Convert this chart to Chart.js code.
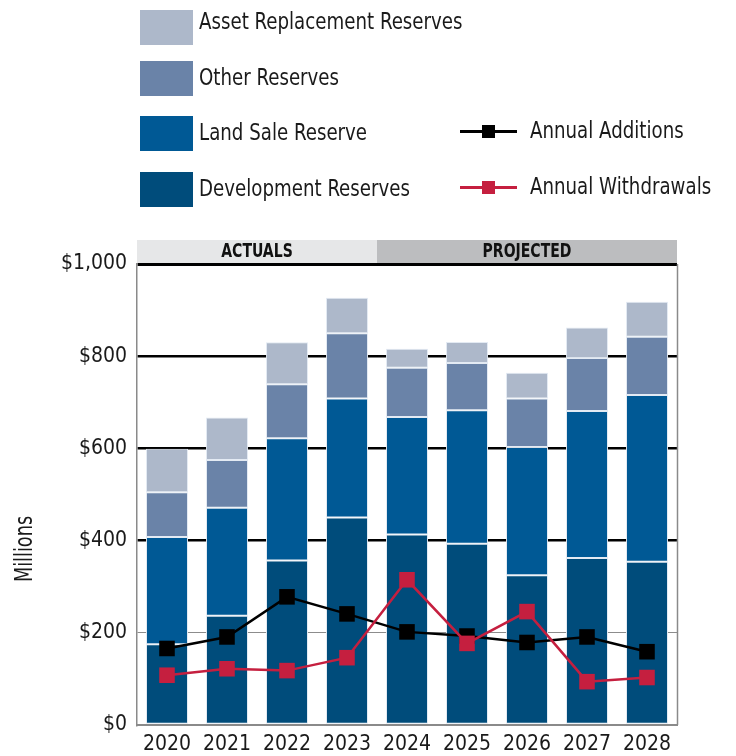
<!DOCTYPE html>
<html>
<head>
<meta charset="utf-8">
<script src="https://cdn.jsdelivr.net/npm/chart.js@4"></script>
<style>
  html, body { margin: 0; padding: 0; background: #fff; }
  #wrap { position: relative; width: 736px; height: 756px; overflow: hidden; }
  #chart { position: absolute; left: 0; top: 0; }
  .lg { position: absolute; font-family: 'Liberation Sans Narrow', 'Arial Narrow', 'DejaVu Sans Condensed', sans-serif; font-size: 23px; color: #1a1a1a; white-space: nowrap; line-height: 1; transform-origin: 0 50%; transform: scaleX(0.88); }
  .sw { position: absolute; width: 53px; height: 35px; }
</style>
</head>
<body>
<div id="wrap">
  <canvas id="chart" width="736" height="756"></canvas>
  <div id="legend"></div>
</div>
<script>
const years = ['2020', '2021', '2022', '2023', '2024', '2025', '2026', '2027', '2028'];
const development = [175, 237, 357, 450, 413, 393, 325, 362, 354];
const landSale = [233, 234, 265, 258, 255, 290, 278, 319, 362];
const otherReserves = [97, 104, 117, 142, 107, 102, 105, 115, 126];
const assetReplacement = [94, 92, 91, 77, 41, 46, 56, 66, 76];
const annualAdditions = [166, 191, 278, 241, 202, 193, 179, 191, 159];
const annualWithdrawals = [108, 122, 118, 146, 315, 177, 246, 94, 103];
const yTickValues = [0, 200, 400, 600, 800, 1000];
const periodLabels = ['ACTUALS', 'PROJECTED'];
const actualYearCount = 4;

const FONT = "'Liberation Sans Narrow', 'Arial Narrow', 'DejaVu Sans Condensed', sans-serif";
const TEXT = '#1a1a1a';

const barSeries = [
  { label: 'Development Reserves', data: development, color: '#004c7b' },
  { label: 'Land Sale Reserve', data: landSale, color: '#005995' },
  { label: 'Other Reserves', data: otherReserves, color: '#6a83a8' },
  { label: 'Asset Replacement Reserves', data: assetReplacement, color: '#adb8ca' }
];
const lineSeries = [
  { label: 'Annual Additions', data: annualAdditions, color: '#000000', order: 1 },
  { label: 'Annual Withdrawals', data: annualWithdrawals, color: '#c51f3f', order: 0 }
];

// HTML legend built from the series
(function buildLegend() {
  const lg = document.getElementById('legend');
  const swTops = [172, 116, 61, 10];
  const textOffsets = [5, 5, 5, 0];
  barSeries.forEach((s, i) => {
    const top = swTops[i];
    const sw = document.createElement('div');
    sw.className = 'sw';
    sw.style.left = '140px'; sw.style.top = top + 'px'; sw.style.background = s.color;
    lg.appendChild(sw);
    const t = document.createElement('div');
    t.className = 'lg';
    t.textContent = s.label;
    t.style.left = '199px'; t.style.top = (top + textOffsets[i]) + 'px';
    lg.appendChild(t);
  });
  const lineCenters = [131, 187];
  lineSeries.forEach((s, i) => {
    const cy = lineCenters[i];
    const ln = document.createElement('div');
    ln.style.cssText = 'position:absolute;left:460px;width:57px;height:3px;top:' + (cy - 1.5) + 'px;background:' + s.color;
    lg.appendChild(ln);
    const sq = document.createElement('div');
    sq.style.cssText = 'position:absolute;left:482px;width:13px;height:13px;top:' + (cy - 6.5) + 'px;background:' + s.color;
    lg.appendChild(sq);
    const t = document.createElement('div');
    t.className = 'lg';
    t.textContent = s.label;
    t.style.left = '530px'; t.style.top = (cy - 12) + 'px';
    lg.appendChild(t);
  });
})();

const decorPlugin = {
  id: 'decor',
  beforeDraw(chart) {
    const { ctx, chartArea, scales } = chart;
    const x = scales.x;
    const split = (x.getPixelForValue(actualYearCount - 1) + x.getPixelForValue(actualYearCount)) / 2;
    const bandTop = chartArea.top - 24, bandH = 23;
    ctx.save();
    ctx.fillStyle = '#e6e7e8';
    ctx.fillRect(chartArea.left, bandTop, split - chartArea.left, bandH);
    ctx.fillStyle = '#bcbdbf';
    ctx.fillRect(split, bandTop, chartArea.right - split, bandH);
    ctx.fillStyle = '#111';
    ctx.font = 'bold 19px ' + FONT;
    ctx.textAlign = 'center';
    ctx.textBaseline = 'middle';
    const centers = [(chartArea.left + split) / 2, (split + chartArea.right) / 2];
    centers.forEach((cx, i) => {
      ctx.save();
      ctx.translate(cx, bandTop + bandH / 2 + 1);
      ctx.scale(0.82, 1);
      ctx.fillText(periodLabels[i], 0, 0);
      ctx.restore();
    });
    ctx.restore();
  },
  afterDatasetsDraw(chart) {
    const { ctx, chartArea } = chart;
    ctx.save();
    ctx.strokeStyle = '#8a8a8a';
    ctx.lineWidth = 1.5;
    ctx.beginPath();
    ctx.moveTo(chartArea.right + 0.5, chartArea.top);
    ctx.lineTo(chartArea.right + 0.5, chartArea.bottom);
    ctx.stroke();
    ctx.restore();
  },
  afterDraw(chart) {
    const { ctx } = chart;
    ctx.save();
    ctx.translate(26, 549);
    ctx.rotate(-Math.PI / 2);
    ctx.scale(0.82, 1);
    ctx.fillStyle = TEXT;
    ctx.font = '24px ' + FONT;
    ctx.textAlign = 'center';
    ctx.textBaseline = 'middle';
    ctx.fillText('Millions', 0, 0);
    ctx.restore();
  }
};

const datasets = [];
barSeries.forEach(s => datasets.push({
  type: 'bar', label: s.label, data: s.data, backgroundColor: s.color,
  borderColor: 'rgba(226,233,242,0.95)', borderWidth: 1, borderSkipped: false,
  stack: 'reserves', order: 2, barPercentage: 0.7, categoryPercentage: 1.0
}));
lineSeries.forEach((s, i) => datasets.push({
  type: 'line', label: s.label, data: s.data, borderColor: s.color, backgroundColor: s.color,
  borderWidth: 2.5, tension: 0, pointStyle: 'rect', pointRadius: 11, pointHoverRadius: 11,
  pointBorderWidth: 0, stack: 'line' + i, order: s.order, fill: false
}));

new Chart(document.getElementById('chart'), {
  data: { labels: years, datasets },
  options: {
    responsive: false,
    animation: false,
    devicePixelRatio: 1,
    layout: { padding: { top: 264, right: 59, left: 0, bottom: 0 } },
    plugins: { legend: { display: false }, tooltip: { enabled: false } },
    scales: {
      x: {
        stacked: true,
        grid: { display: false, drawTicks: false },
        border: { display: true, color: '#8a8a8a', width: 2 },
        ticks: { color: TEXT, font: { family: FONT, size: 21 }, padding: 7, maxRotation: 0, minRotation: 0, autoSkip: false },
        afterFit(scale) { scale.height = 31; }
      },
      y: {
        stacked: true,
        min: 0, max: 1000,
        afterBuildTicks(scale) { scale.ticks = yTickValues.map(v => ({ value: v })); },
        grid: {
          drawTicks: false,
          color: ctx => {
            const v = ctx.tick && ctx.tick.value;
            if (v === 0) return 'rgba(0,0,0,0)';
            if (v === 200) return '#8c8c8c';
            return '#000000';
          },
          lineWidth: ctx => {
            const v = ctx.tick && ctx.tick.value;
            if (v === 200) return 1;
            if (v === 1000) return 3;
            return 2.5;
          }
        },
        border: { display: true, color: '#8a8a8a', width: 1.5 },
        ticks: {
          color: TEXT, font: { family: FONT, size: 21 }, padding: 10,
          callback: v => '$' + Number(v).toLocaleString('en-US')
        },
        afterFit(scale) { scale.width = 137; }
      }
    }
  },
  plugins: [decorPlugin]
});
</script>
</body>
</html>
